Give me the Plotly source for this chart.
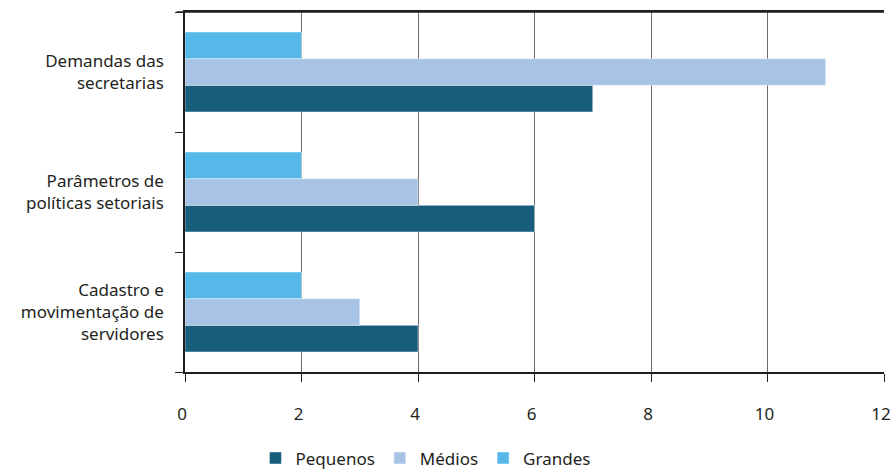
import plotly.graph_objects as go

categories = ["Cadastro e<br>movimentação de<br>servidores",
              "Parâmetros de<br>políticas setoriais",
              "Demandas das<br>secretarias"]
pequenos = [4, 6, 7]
medios = [3, 4, 11]
grandes = [2, 2, 2]
x_ticks = [0, 2, 4, 6, 8, 10, 12]

series = [("Pequenos", pequenos, "#175E7C"),
          ("Médios", medios, "#A7C4E6"),
          ("Grandes", grandes, "#55B8E8")]

fig = go.Figure()
for name, vals, color in series:
    fig.add_trace(go.Bar(
        y=categories, x=vals, name=name, orientation="h",
        marker=dict(color=color, line=dict(color="rgba(255,255,255,0.45)", width=1)),
    ))

font_family = "Noto Sans, Open Sans, sans-serif"
fig.update_layout(
    width=891, height=471,
    margin=dict(l=185, r=7, t=12, b=99, autoexpand=False),
    paper_bgcolor="white", plot_bgcolor="white",
    barmode="group", bargap=1/3, bargroupgap=0,
    font=dict(family=font_family, size=17, color="#231F20"),
    showlegend=True,
    legend=dict(orientation="h", x=0.344, xanchor="center", y=-0.24, yanchor="middle",
                font=dict(size=17), traceorder="normal", itemwidth=30),
    xaxis=dict(range=[0, 12], tickvals=x_ticks, showgrid=True, gridcolor="#6d6d6d",
               gridwidth=1, showline=True, linecolor="#231F20", linewidth=1.5,
               mirror=True, ticks="outside", ticklen=8, tickcolor="#231F20",
               ticklabelstandoff=18, ticklabelshift=-3, ticklabeloverflow="allow",
               zeroline=False),
    yaxis=dict(showgrid=False, showline=True, linecolor="#231F20", linewidth=1.5,
               ticks="outside", ticklen=8, tickcolor="#231F20", tickson="boundaries",
               ticklabelstandoff=16),
    shapes=[dict(type="line", xref="paper", yref="paper", x0=-0.012, x1=1, y0=1, y1=1,
                 layer="above", line=dict(color="#231F20", width=1.5))],
)
fig.write_html("out.html")
